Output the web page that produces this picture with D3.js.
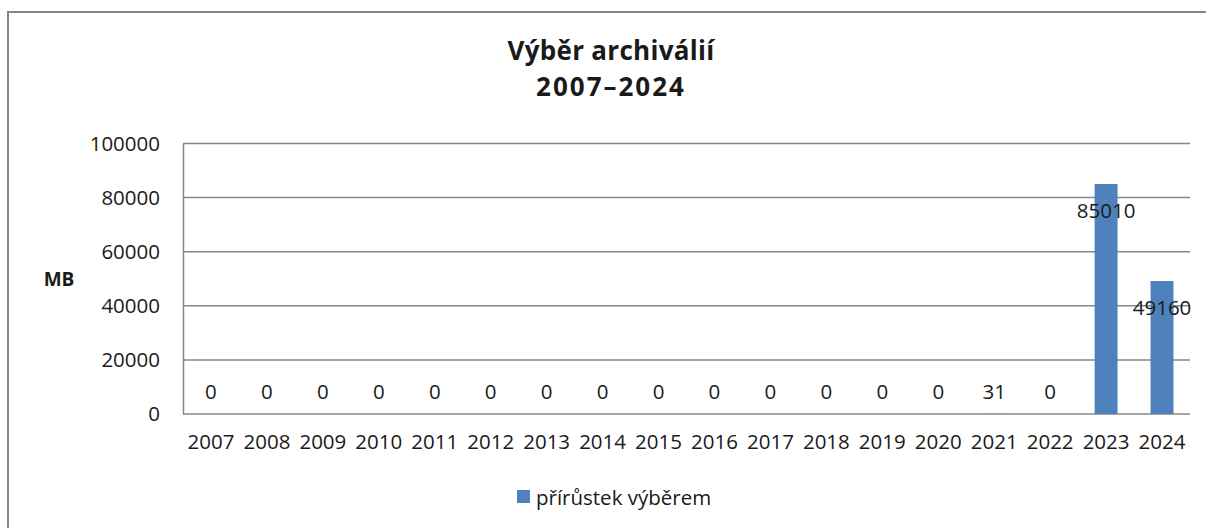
<!DOCTYPE html>
<html>
<head>
<meta charset="utf-8">
<script src="https://cdn.jsdelivr.net/npm/d3@7"></script>
<style>
  body { margin: 0; background: #fff; }
  text { font-family: "Open Sans", sans-serif; fill: #1a1a1a; }
</style>
</head>
<body>
<svg id="chart" width="1206" height="528"></svg>
<script>
// data
const years = ["2007", "2008", "2009", "2010", "2011", "2012", "2013", "2014", "2015",
  "2016", "2017", "2018", "2019", "2020", "2021", "2022", "2023", "2024"];
const values = [0, 0, 0, 0, 0, 0, 0, 0, 0, 0, 0, 0, 0, 0, 31, 0, 85010, 49160];
const yTicks = [0, 20000, 40000, 60000, 80000, 100000];
const seriesName = "přírůstek výběrem";
const titleLines = ["Výběr archiválií", "2007–2024"];

const svg = d3.select("#chart");
const grey = "#868686";
const fs = 20.5;

// outer frame of the chart
svg.append("rect")
  .attr("x", 8).attr("y", 12)
  .attr("width", 1220).attr("height", 540)
  .attr("fill", "none")
  .attr("stroke", grey)
  .attr("stroke-width", 2);

const plot = { left: 183, right: 1190, top: 143.5, bottom: 414 };

const x = d3.scaleBand()
  .domain(years)
  .range([plot.left, plot.right])
  .paddingInner(0.59)
  .paddingOuter(0.295);

const y = d3.scaleLinear()
  .domain([0, 100000])
  .range([plot.bottom, plot.top]);

// gridlines
svg.append("g")
  .selectAll("line")
  .data(yTicks.filter((d) => d > 0))
  .enter()
  .append("line")
  .attr("x1", plot.left).attr("x2", plot.right)
  .attr("y1", (d) => y(d)).attr("y2", (d) => y(d))
  .attr("stroke", grey)
  .attr("stroke-width", 1.5);

// y axis
const yAxis = svg.append("g")
  .attr("transform", `translate(${plot.left},0)`)
  .call(d3.axisLeft(y).tickValues(yTicks).tickSize(0).tickPadding(23).tickFormat(d3.format("d")));
yAxis.select(".domain").attr("stroke", grey).attr("stroke-width", 1.5);
yAxis.selectAll("text").attr("font-size", fs).attr("font-family", null).attr("fill", "#1a1a1a");

// x axis
const xAxis = svg.append("g")
  .attr("transform", `translate(0,${plot.bottom})`)
  .call(d3.axisBottom(x).tickSize(0).tickPadding(20));
xAxis.select(".domain").attr("stroke", grey).attr("stroke-width", 1.5)
  .attr("d", `M${plot.left},0H${plot.right}`);
xAxis.selectAll("text").attr("font-size", fs).attr("font-family", null).attr("fill", "#1a1a1a");

// bars
svg.append("g")
  .selectAll("rect")
  .data(values)
  .enter()
  .append("rect")
  .attr("x", (d, i) => x(years[i]))
  .attr("y", (d) => y(d))
  .attr("width", x.bandwidth())
  .attr("height", (d) => plot.bottom - y(d))
  .attr("fill", "#4F81BD");

// data labels
svg.append("g")
  .selectAll("text")
  .data(values)
  .enter()
  .append("text")
  .attr("x", (d, i) => x(years[i]) + x.bandwidth() / 2)
  .attr("y", (d) => (d > 1000 ? y(d) + 26 : y(d) - 23))
  .attr("text-anchor", "middle")
  .attr("dominant-baseline", "central")
  .attr("font-size", fs)
  .text((d) => d);

// title
svg.append("g")
  .selectAll("text")
  .data(titleLines)
  .enter()
  .append("text")
  .attr("x", 611)
  .attr("y", (d, i) => 50 + i * 36)
  .attr("text-anchor", "middle")
  .attr("dominant-baseline", "central")
  .attr("font-size", 26)
  .attr("font-weight", "bold")
  .attr("letter-spacing", (d, i) => (i === 1 ? 2 : 0.3))
  .attr("fill", "#000")
  .text((d) => d);

// axis title
svg.append("text")
  .attr("x", 59).attr("y", 279)
  .attr("text-anchor", "middle")
  .attr("dominant-baseline", "central")
  .attr("font-size", 19)
  .attr("font-weight", "bold")
  .attr("fill", "#000")
  .text("MB");

// legend
const legend = svg.append("g").attr("transform", "translate(517,490)");
legend.append("rect")
  .attr("width", 13).attr("height", 13)
  .attr("fill", "#4F81BD");
legend.append("text")
  .attr("x", 19).attr("y", 7)
  .attr("dominant-baseline", "central")
  .attr("font-size", fs)
  .text(seriesName);
</script>
</body>
</html>
